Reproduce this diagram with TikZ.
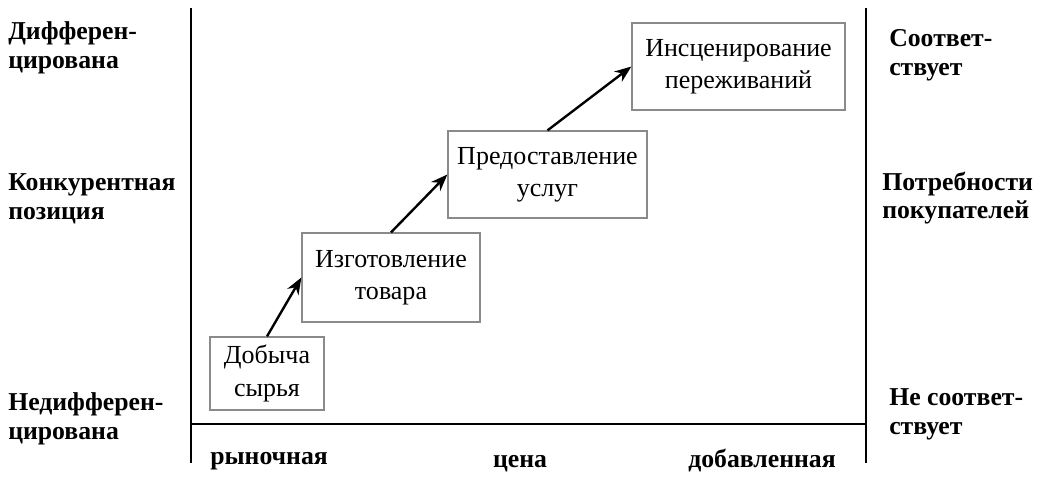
\documentclass[tikz,border=0pt]{standalone}
\usepackage{fontspec}
\setmainfont{Liberation Serif}
\usetikzlibrary{arrows.meta, positioning}
\definecolor{frame}{HTML}{8A8A8A}

\begin{document}
\begin{tikzpicture}[x=0.025cm, y=-0.025cm]
  \tikzset{
    stage/.style={draw=frame, line width=0.9pt, minimum height=87*0.025cm, align=center, inner sep=2pt, font=\fontsize{18.5}{23}\selectfont},
    sidelabel/.style={anchor=west, inner sep=0pt, align=left, font=\fontsize{18.3}{20.5}\selectfont\bfseries},
    step arrow/.style={-{Stealth[length=4.2mm, width=3.2mm]}, line width=1.7pt},
    axis/.style={line width=2pt}
  }
  \useasboundingbox (0,0) rectangle (1051,493);
  % axes
  \coordinate (lt) at (191,8);
  \coordinate (lb) at (191,463);
  \coordinate (rt) at (866,8);
  \coordinate (rb) at (866,463);
  \coordinate (hl) at (191,424);
  \coordinate (hr) at (866,424);
  \draw[axis] (lt) -- (lb);
  \draw[axis] (rt) -- (rb);
  \draw[axis] (hl) -- (hr);
  % stages
  \node[stage, minimum width=114*0.025cm, minimum height=73*0.025cm] (raw) at (267,373.5) {Добыча\\сырья};
  \node[stage, minimum width=178*0.025cm, minimum height=89*0.025cm] (goods) at (391,277.5) {Изготовление\\товара};
  \node[stage, minimum width=199*0.025cm] (service) at (547.5,174.5) {Предоставление\\услуг};
  \node[stage, minimum width=213*0.025cm] (staging) at (738.5,66.5) {Инсценирование\\переживаний};
  \draw[step arrow] (raw.north) -- (goods.west);
  \draw[step arrow] (goods.north) -- (service.west);
  \draw[step arrow] (service.north) -- (staging.west);
  % left side
  \node[sidelabel] (diff) at (8,48) {Дифферен-\\цирована};
  \node[sidelabel] (pos) at (8,199) {Конкурентная\\позиция};
  \node[sidelabel] (undiff) at (8,419) {Недифферен-\\цирована};
  % right side
  \node[sidelabel] (fit) at (889,55) {Соответ-\\ствует};
  \node[sidelabel] (needs) at (882,198) {Потребности\\покупателей};
  \node[sidelabel] (nofit) at (889,414) {Не соответ-\\ствует};
  % bottom
  \node[sidelabel] (market) at (210,461) {рыночная};
  \node[sidelabel, anchor=center] (price) at (520,464) {цена};
  \node[sidelabel] (added) at (688,461) {добавленная};
\end{tikzpicture}
\end{document}
